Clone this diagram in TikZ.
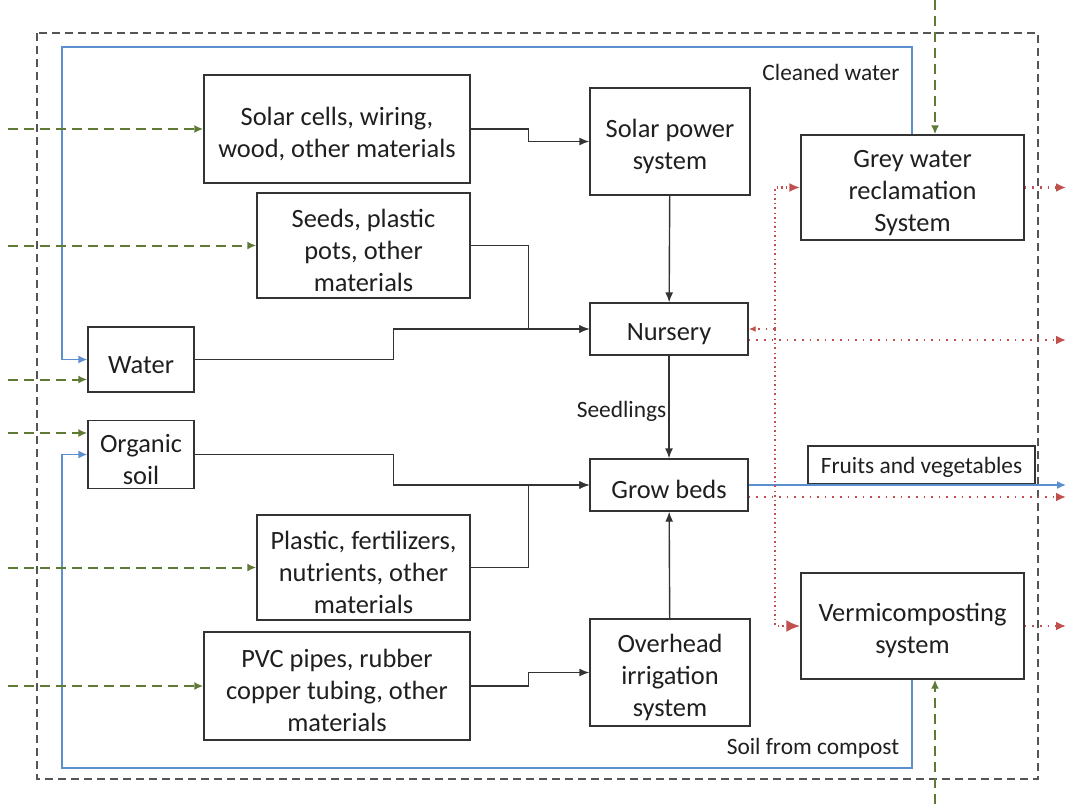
\documentclass[tikz,border=0pt]{standalone}
\usepackage{fontspec}
\setmainfont{Carlito}
\usetikzlibrary{arrows.meta}
\usetikzlibrary{positioning, calc}
\definecolor{flowgray}{HTML}{333333}
\definecolor{waterblue}{HTML}{5B8FD0}
\definecolor{inputgreen}{HTML}{5E7A34}
\definecolor{wastered}{HTML}{C0504D}
\definecolor{bordergray}{HTML}{555555}
\newcommand{\topstrut}{\rule{0pt}{13.8pt}}

\begin{document}
\begin{tikzpicture}[
    x=0.5pt, y=-0.5pt,
    line width=0.7pt,
    block/.style={draw=flowgray, fill=white, align=center, inner sep=2pt,
                  text=black!88, font=\fontsize{13.2}{16}\selectfont},
    wideblk/.style={block, minimum width=133pt, minimum height=54pt},
    midblk/.style={block, minimum width=106.5pt, minimum height=52.5pt},
    sysblk/.style={block, minimum width=80pt, minimum height=53.5pt},
    flatblk/.style={block, minimum width=79pt, minimum height=26pt},
    srcblk/.style={block, minimum width=53pt, minimum height=32.5pt},
    outblk/.style={block, minimum width=111.5pt, minimum height=52.5pt},
    lbl/.style={text=black!88, font=\fontsize{11.7}{14}\selectfont, inner sep=2pt},
    flow/.style={flowgray, -{Latex[length=5pt, width=4pt]}},
    supply/.style={inputgreen, line width=1pt, dash pattern=on 5pt off 3pt,
                   -{Latex[length=4.5pt, width=4pt]}},
    water/.style={waterblue, -{Latex[length=4.5pt, width=4pt]}},
    waste/.style={wastered, line width=1.1pt, dash pattern=on 0.8pt off 3pt,
                  -{Latex[length=5pt, width=4.5pt]}},
    wastebus/.style={waste, line width=1.3pt, dash pattern=on 1pt off 1.6pt on 0.4pt off 1.6pt},
  ]
  \useasboundingbox (0,0) rectangle (1066,804);

  % ---- system boundary ----
  \draw[bordergray, line width=0.75pt, dash pattern=on 4pt off 2.5pt]
    (37,33) rectangle (1038,779);

  % ---- blocks ----
  \node[wideblk] (solar) at (337,129) {\topstrut Solar cells, wiring,\\wood, other materials};
  \node[sysblk] (solarpower) at (670,141.5) {\topstrut Solar power\\system};
  \node[outblk] (greywater) at (912.5,187.5) {\topstrut Grey water\\reclamation\\System};
  \node[midblk] (seeds) at (363.5,245.5) {\topstrut Seeds, plastic\\pots, other\\materials};
  \node[flatblk] (nursery) at (669,329) {\topstrut Nursery};
  \node[srcblk] (water) at (141,359.5) {\topstrut Water};
  \node[srcblk] (organic) at (141,454.5) {\topstrut Organic\\soil};
  \node[flatblk] (grow) at (669,485) {\topstrut Grow beds};
  \node[block, minimum width=113.5pt, minimum height=19pt, font=\fontsize{11.7}{14}\selectfont]
    (fruits) at (921.5,465) {\rule{0pt}{10.5pt}Fruits and vegetables};
  \node[midblk] (plastic) at (363.5,567.5) {\topstrut Plastic, fertilizers,\\nutrients, other\\materials};
  \node[wideblk] (pvc) at (337,686) {\topstrut PVC pipes, rubber\\copper tubing, other\\materials};
  \node[sysblk] (overhead) at (670,672.5) {\topstrut Overhead\\irrigation\\system};
  \node[outblk, minimum height=53pt] (vermi) at (912.5,626) {\topstrut Vermicomposting\\system};

  % ---- material flows ----
  \draw[flow] (solar.east) -- ++(58,0) |- (solarpower.west);
  \draw[flow] (solarpower) -- (nursery);
  \draw[flow] (seeds.east) -- ++(58,0) |- (nursery.west);
  \draw[flow] (water.east) -- ++(199,0) |- (nursery.west);
  \draw[flow] (nursery) -- node[lbl, left=-1pt, yshift=-2pt] {Seedlings} (grow);
  \draw[flow] (organic.east) -- ++(199,0) |- (grow.west);
  \draw[flow] (plastic.east) -- ++(58,0) |- (grow.west);
  \draw[flow] (pvc.east) -- ++(58,0) |- (overhead.west);
  \draw[flow] (overhead) -- (grow);

  % ---- recycled water and soil ----
  \coordinate (looptop) at (62,47);
  \coordinate (loopbot) at (62,768);
  \coordinate (foodout) at (1066,485);
  \draw[water] ($(greywater.north)+(-0.5,0)$) |- (looptop) |- (water.west);
  \draw[water] ($(vermi.south)+(-0.5,0)$) |- (loopbot) |- (organic.west);
  \draw[water] (grow.east) -- (foodout);
  \node[lbl] (cleaned) at (831,72) {Cleaned water};
  \node[lbl] (compost) at (813,748) {Soil from compost};

  % ---- outside inputs ----
  \foreach \b/\dy in {solar/0, seeds/0, water/20, organic/-21.5, plastic/0, pvc/0}
    \draw[supply] ($(\b.west)+(0,\dy)$) ++(0,0) coordinate (in\b)
      (8,0 |- in\b) -- (in\b);
  \coordinate (gwin) at (935,0);
  \coordinate (vcin) at (935,804);
  \draw[supply] (gwin) -- (gwin |- greywater.north);
  \draw[supply] (vcin) -- (vcin |- vermi.south);

  % ---- waste streams ----
  \coordinate (wastebus) at (775,329);
  \draw[waste, -{Latex[length=3.5pt, width=3pt]}] (wastebus) -- (nursery.east);
  \draw[wastebus, -{Latex[length=5.5pt, width=4.5pt]}] (wastebus) |- (greywater.west);
  \draw[wastebus, -{Latex[length=7pt, width=6pt]}] (wastebus) |- (vermi.west);
  \foreach \b/\dy in {greywater/0, nursery/11, grow/12, vermi/0}
    \draw[waste] ($(\b.east)+(0,\dy)$) coordinate (out\b)
      -- (1066,0 |- out\b);
\end{tikzpicture}
\end{document}
